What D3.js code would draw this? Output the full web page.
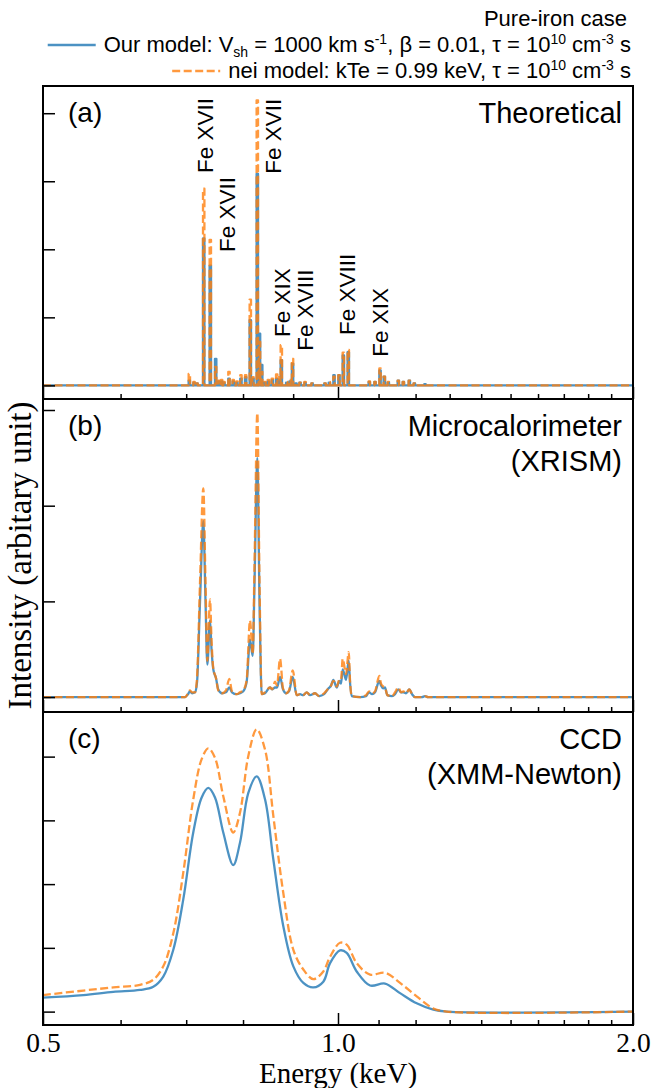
<!DOCTYPE html>
<html>
<head>
<meta charset="utf-8">
<script src="https://cdn.jsdelivr.net/npm/d3@7"></script>
<style>
    body { margin: 0; background: #fff; }
</style>
</head>
<body>
<div id="chart"></div>
<script>

// ---- values (energy in keV, intensity in arbitrary units) ----

// x axis
const xMajor = [0.5, 1.0, 2.0];
const xMajorLabels = ["0.5", "1.0", "2.0"];
const xMinor = [0.6, 0.7, 0.8, 0.9, 1.1, 1.2, 1.3, 1.4, 1.5, 1.6, 1.7, 1.8, 1.9];

// (a) theoretical line spectrum
const lineEnergy = [0.7052, 0.713, 0.718, 0.7294, 0.7408, 0.7502, 0.756, 0.7608, 0.765, 0.774,
    0.7818, 0.7887, 0.7961, 0.805, 0.8138, 0.819, 0.8273, 0.8316, 0.8359, 0.8424,
    0.849, 0.857, 0.8659, 0.8712, 0.8753, 0.8865, 0.8934, 0.8987, 0.9061, 0.9147,
    0.9255, 0.9409, 0.97, 0.9799, 0.9907, 1.0024, 1.0126, 1.0245, 1.0764, 1.0909,
    1.1038, 1.115, 1.1256, 1.1523, 1.166, 1.1825, 1.1964, 1.2268];
const lineOurs = [0.07, 0.04, 0.03, 2.16, 1.76, 0.39, 0.06, 0.06, 0.04, 0.10,
    0.06, 0.04, 0.10, 0.12, 0.96, 0.10, 3.11, 0.76, 0.30, 0.04,
    0.06, 0.08, 0.10, 0.08, 0.37, 0.04, 0.06, 0.32, 0.03, 0.04,
    0.04, 0.03, 0.03, 0.04, 0.15, 0.15, 0.44, 0.49, 0.05, 0.05,
    0.22, 0.13, 0.04, 0.07, 0.05, 0.07, 0.03, 0.02];
const lineNei = [0.17, 0.05, 0.03, 2.89, 2.14, 0.27, 0.07, 0.08, 0.05, 0.20,
    0.08, 0.06, 0.15, 0.15, 1.26, 0.12, 4.19, 0.64, 0.20, 0.05,
    0.08, 0.10, 0.16, 0.12, 0.59, 0.05, 0.08, 0.39, 0.03, 0.04,
    0.05, 0.03, 0.03, 0.05, 0.13, 0.15, 0.48, 0.52, 0.06, 0.05,
    0.25, 0.13, 0.05, 0.07, 0.05, 0.07, 0.03, 0.02];

// ion labels of panel (a)
const feLabels = ["Fe XVII", "Fe XVII", "Fe XVII", "Fe XIX", "Fe XVIII", "Fe XVIII", "Fe XIX"];
const feLabelEnergy = [0.7308, 0.7699, 0.859, 0.8761, 0.9255, 1.0207, 1.1038];
const feLabelBase = [3.12, 1.96, 3.11, 0.71, 0.51, 0.74, 0.42];

// (b) microcalorimeter (XRISM)
const xrismEnergy = [0.5, 0.6981, 0.703, 0.706, 0.7097, 0.7147, 0.718, 0.7231, 0.7287, 0.7325,
    0.7356, 0.7403, 0.7429, 0.746, 0.7507, 0.7548, 0.7614, 0.7686, 0.7746, 0.7795,
    0.7882, 0.7943, 0.8005, 0.8069, 0.8132, 0.8184, 0.8219, 0.8273, 0.8316, 0.8359,
    0.8424, 0.8524, 0.8564, 0.8625, 0.8665, 0.8727, 0.8788, 0.8851, 0.8913, 0.8991,
    0.9076, 0.9147, 0.9212, 0.9292, 0.9364, 0.9475, 0.9565, 0.9678, 0.9776, 0.9838,
    0.9891, 0.997, 1.0031, 1.0071, 1.0111, 1.019, 1.0255, 1.0287, 1.0327, 1.0532,
    1.0681, 1.0757, 1.0833, 1.0909, 1.102, 1.1064, 1.1124, 1.1168, 1.1229, 1.1354,
    1.1434, 1.1523, 1.1596, 1.166, 1.1733, 1.1825, 1.19, 1.1984, 1.2182, 1.2268,
    1.2355, 2.0];
const xrismOurs = [0, 0, 0.03, 0.06, 0.04, 0.05, 0.15, 1.0, 1.84, 1.0,
    0.34, 0.80, 0.5, 0.29, 0.2, 0.08, 0.04, 0.05, 0.10, 0.05,
    0.03, 0.04, 0.06, 0.16, 0.60, 0.43, 1.2, 2.50, 1.0, 0.03,
    0.04, 0.10, 0.08, 0.10, 0.10, 0.21, 0.08, 0.04, 0.06, 0.21,
    0.02, 0.03, 0.02, 0.05, 0.02, 0.04, 0.01, 0.03, 0.09, 0.12,
    0.18, 0.10, 0.17, 0.14, 0.29, 0.18, 0.38, 0.15, 0.01, 0,
    0.01, 0.05, 0.03, 0.05, 0.17, 0.12, 0.09, 0.10, 0.02, 0.01,
    0.03, 0.08, 0.05, 0.05, 0.04, 0.08, 0.03, 0, 0, 0.01,
    0, 0];
const xrismNei = [0, 0, 0.04, 0.07, 0.05, 0.05, 0.2, 1.2, 2.18, 1.2,
    0.38, 1.02, 0.6, 0.30, 0.2, 0.07, 0.04, 0.07, 0.19, 0.06,
    0.03, 0.05, 0.07, 0.18, 0.80, 0.45, 1.4, 2.97, 1.2, 0.03,
    0.05, 0.10, 0.08, 0.16, 0.12, 0.40, 0.09, 0.04, 0.07, 0.28,
    0.02, 0.03, 0.02, 0.05, 0.02, 0.04, 0.01, 0.04, 0.09, 0.12,
    0.17, 0.11, 0.18, 0.18, 0.40, 0.24, 0.47, 0.17, 0.01, 0,
    0.02, 0.06, 0.04, 0.06, 0.22, 0.14, 0.11, 0.10, 0.02, 0.01,
    0.05, 0.10, 0.05, 0.06, 0.04, 0.08, 0.03, 0, 0, 0.01,
    0, 0];

// (c) CCD (XMM-Newton)
const ccdEnergy = [0.5, 0.5497, 0.5898, 0.628, 0.6479, 0.6633, 0.6791, 0.6952, 0.7117, 0.7259,
    0.7373, 0.749, 0.7637, 0.7818, 0.7943, 0.81, 0.8261, 0.8424, 0.859, 0.8794,
    0.9004, 0.9218, 0.9437, 0.9661, 0.9815, 1.0047, 1.0207, 1.0449, 1.0783, 1.1168,
    1.1569, 1.2031, 1.251, 1.291, 2.0];
const ccdOurs = [0.22, 0.26, 0.31, 0.34, 0.39, 0.55, 0.97, 1.76, 2.81, 3.36,
    3.51, 3.36, 2.81, 2.30, 2.65, 3.43, 3.69, 3.33, 2.39, 1.34,
    0.71, 0.45, 0.38, 0.47, 0.76, 0.96, 0.92, 0.63, 0.41, 0.44,
    0.29, 0.13, 0.03, 0, 0];
const ccdNei = [0.26, 0.33, 0.38, 0.42, 0.50, 0.71, 1.23, 2.18, 3.33, 3.96,
    4.13, 3.98, 3.38, 2.81, 3.12, 4.01, 4.43, 4.11, 3.07, 1.86,
    0.97, 0.66, 0.51, 0.63, 0.86, 1.08, 1.05, 0.76, 0.58, 0.61,
    0.45, 0.24, 0.05, 0, 0];

// y ticks of each panel
const ticksA = [0, 1, 2, 3, 4];
const ticksB = [0, 1, 2, 3];
const ticksC = [0, 1, 2, 3, 4];


/* * * * * * * * * * * * * *
*     class SpectrumPanel   *
* * * * * * * * * * * * * */

const SANS = "'Liberation Sans', Arial, Helvetica, sans-serif";
const SERIF = "'Liberation Serif', 'Times New Roman', serif";
const BLUE = "#1f77b4";
const ORANGE = "#ff7f0e";

class SpectrumPanel {

    constructor(svg, x, cfg) {
        this.svg = svg;
        this.x = x;
        this.cfg = cfg;

        this.initVis();
    }

    initVis() {
        let vis = this;

        vis.height = vis.cfg.height;
        vis.g = vis.svg.append("g")
            .attr("transform", `translate(0, ${vis.cfg.top})`);

        vis.y = d3.scaleLinear()
            .domain(vis.cfg.yDomain)
            .range([vis.height, 0]);

        // clip lines to the frame
        vis.g.append("clipPath")
            .attr("id", "clip-" + vis.cfg.id)
            .append("rect")
            .attr("x", vis.x.range()[0])
            .attr("y", 0)
            .attr("width", vis.x.range()[1] - vis.x.range()[0])
            .attr("height", vis.height);

        vis.plot = vis.g.append("g")
            .attr("clip-path", `url(#clip-${vis.cfg.id})`);

        vis.updateVis();
    }

    // histogram-like spikes for the line list
    spikePath(energies, heights) {
        let vis = this;
        let hw = 0.7;
        let pts = [[vis.x.range()[0], vis.y(0)]];
        energies.forEach((e, i) => {
            let cx = vis.x(e);
            pts.push([cx - hw, vis.y(0)], [cx - hw, vis.y(heights[i])],
                     [cx + hw, vis.y(heights[i])], [cx + hw, vis.y(0)]);
        });
        pts.push([vis.x.range()[1], vis.y(0)]);
        return d3.line()(pts);
    }

    curvePath(energies, values) {
        let vis = this;
        let line = d3.line()
            .x((d, i) => vis.x(energies[i]))
            .y(d => vis.y(d))
            .curve(vis.cfg.curve);
        return line(values);
    }

    updateVis() {
        let vis = this;
        let c = vis.cfg;

        let dOurs = c.spikes ? vis.spikePath(c.energy, c.ours) : vis.curvePath(c.energy, c.ours);
        let dNei = c.spikes ? vis.spikePath(c.energy, c.nei) : vis.curvePath(c.energy, c.nei);

        vis.plot.append("path")
            .attr("d", dOurs)
            .attr("fill", "none")
            .attr("stroke", BLUE)
            .attr("stroke-opacity", 0.8)
            .attr("stroke-width", 2.3)
            .attr("stroke-linejoin", "round");

        vis.plot.append("path")
            .attr("d", dNei)
            .attr("fill", "none")
            .attr("stroke", ORANGE)
            .attr("stroke-opacity", 0.8)
            .attr("stroke-width", 2.3)
            .attr("stroke-dasharray", "8,3.5")
            .attr("stroke-linejoin", "round");

        // axes: ticks point inward
        let yAxis = d3.axisLeft(vis.y)
            .tickValues(c.yTicks)
            .tickSize(-12)
            .tickFormat("");
        vis.g.append("g")
            .attr("class", "y-axis")
            .attr("transform", `translate(${vis.x.range()[0]}, 0)`)
            .call(yAxis);

        let xAxis = d3.axisBottom(vis.x)
            .tickValues(xMajor)
            .tickSize(-12)
            .tickPadding(7)
            .tickFormat((d, i) => c.xLabels ? xMajorLabels[i] : "");
        vis.g.append("g")
            .attr("class", "x-axis")
            .attr("transform", `translate(0, ${vis.height})`)
            .call(xAxis);

        let xMinorAxis = d3.axisBottom(vis.x)
            .tickValues(xMinor)
            .tickSize(-5)
            .tickFormat("");
        vis.g.append("g")
            .attr("class", "x-axis-minor")
            .attr("transform", `translate(0, ${vis.height})`)
            .call(xMinorAxis);

        vis.g.selectAll(".domain").remove();
        vis.g.selectAll(".tick line")
            .attr("stroke", "#000")
            .attr("stroke-width", 1.5);
        vis.g.selectAll(".x-axis text")
            .attr("font-family", SERIF)
            .attr("font-size", 27.5)
            .attr("fill", "#000");

        // frame
        vis.g.append("rect")
            .attr("x", vis.x.range()[0])
            .attr("y", 0)
            .attr("width", vis.x.range()[1] - vis.x.range()[0])
            .attr("height", vis.height)
            .attr("fill", "none")
            .attr("stroke", "#000")
            .attr("stroke-width", 2);

        // panel letter and title
        vis.g.append("text")
            .text(c.letter)
            .attr("x", 68)
            .attr("y", 36)
            .attr("font-family", SANS)
            .attr("font-size", 28);

        vis.g.selectAll(".title")
            .data(c.title)
            .enter()
            .append("text")
            .attr("class", "title")
            .text(d => d)
            .attr("x", 622)
            .attr("y", (d, i) => 37 + i * 35)
            .attr("text-anchor", "end")
            .attr("font-family", SANS)
            .attr("font-size", 29);
    }
}


// ---- figure ----
const W = 654, H = 1088;
const top0 = 86, panelH = 313;

let svg = d3.select("#chart").append("svg")
    .attr("width", W)
    .attr("height", H)
    .style("background", "#fff");

let x = d3.scaleLog()
    .domain([0.5, 2.0])
    .range([43, 633]);

let panelA = new SpectrumPanel(svg, x, {
    id: "a", top: top0, height: panelH, yDomain: [-0.2, 4.4], yTicks: ticksA,
    energy: lineEnergy, ours: lineOurs, nei: lineNei, spikes: true,
    letter: "(a)", title: ["Theoretical"], xLabels: false
});

let panelB = new SpectrumPanel(svg, x, {
    id: "b", top: top0 + panelH, height: panelH, yDomain: [-0.156, 3.115], yTicks: ticksB,
    energy: xrismEnergy, ours: xrismOurs, nei: xrismNei, spikes: false,
    curve: d3.curveMonotoneX,
    letter: "(b)", title: ["Microcalorimeter", "(XRISM)"], xLabels: false
});

let panelC = new SpectrumPanel(svg, x, {
    id: "c", top: top0 + 2 * panelH, height: panelH, yDomain: [-0.21, 4.70], yTicks: ticksC,
    energy: ccdEnergy, ours: ccdOurs, nei: ccdNei, spikes: false,
    curve: d3.curveCatmullRom.alpha(0.5),
    letter: "(c)", title: ["CCD", "(XMM-Newton)"], xLabels: true
});

// ion labels in (a), rotated
panelA.g.selectAll(".fe-label")
    .data(feLabels)
    .enter()
    .append("text")
    .attr("class", "fe-label")
    .text(d => d)
    .attr("transform", (d, i) => `translate(${x(feLabelEnergy[i])}, ${panelA.y(feLabelBase[i])}) rotate(-90)`)
    .attr("dy", "0.36em")
    .attr("font-family", SANS)
    .attr("font-size", 22.5);

// axis titles
svg.append("text")
    .text("Energy (keV)")
    .attr("x", x(1.0))
    .attr("y", 1083)
    .attr("text-anchor", "middle")
    .attr("font-family", SERIF)
    .attr("font-size", 29);

svg.append("text")
    .text("Intensity (arbitary unit)")
    .attr("transform", `translate(31, ${top0 + 1.5 * panelH}) rotate(-90)`)
    .attr("text-anchor", "middle")
    .attr("font-family", SERIF)
    .attr("font-size", 33);

// legend
let legend = svg.append("g").attr("class", "legend")
    .attr("font-family", SANS)
    .attr("font-size", 22);

legend.append("text")
    .text("Pure-iron case")
    .attr("x", 627)
    .attr("y", 26)
    .attr("text-anchor", "end");

let ours = legend.append("text")
    .attr("x", 631)
    .attr("y", 52)
    .attr("text-anchor", "end");
ours.append("tspan").text("Our model: V");
ours.append("tspan").text("sh").attr("font-size", 14).attr("dy", 5);
ours.append("tspan").text(" = 1000 km s").attr("dy", -5);
ours.append("tspan").text("-1").attr("font-size", 14).attr("dy", -8);
ours.append("tspan").text(", β = 0.01, τ = 10").attr("dy", 8);
ours.append("tspan").text("10").attr("font-size", 14).attr("dy", -8);
ours.append("tspan").text(" cm").attr("dy", 8);
ours.append("tspan").text("-3").attr("font-size", 14).attr("dy", -8);
ours.append("tspan").text(" s").attr("dy", 8);

let nei = legend.append("text")
    .attr("x", 631)
    .attr("y", 78)
    .attr("text-anchor", "end");
nei.append("tspan").text("nei model: kTe = 0.99 keV, τ = 10");
nei.append("tspan").text("10").attr("font-size", 14).attr("dy", -8);
nei.append("tspan").text(" cm").attr("dy", 8);
nei.append("tspan").text("-3").attr("font-size", 14).attr("dy", -8);
nei.append("tspan").text(" s").attr("dy", 8);

// legend handles sit left of each entry
let handleLen = 48, gap = 8;
[[ours, 45, BLUE, null], [nei, 71, ORANGE, "8,3.5"]].forEach(([t, hy, col, dash]) => {
    let bx = t.node().getBBox().x;
    legend.append("line")
        .attr("x1", bx - gap - handleLen)
        .attr("x2", bx - gap)
        .attr("y1", hy)
        .attr("y2", hy)
        .attr("stroke", col)
        .attr("stroke-opacity", 0.8)
        .attr("stroke-width", 2.5)
        .attr("stroke-dasharray", dash);
});

</script>
</body>
</html>
